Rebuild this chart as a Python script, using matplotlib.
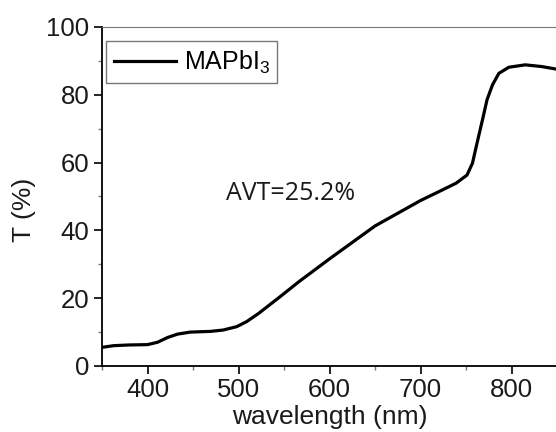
import matplotlib
matplotlib.use("Agg")
import matplotlib.pyplot as plt
from matplotlib.ticker import MultipleLocator

# transmittance spectrum
wavelength = [350, 363, 380, 400, 411, 422, 433, 447, 469, 483, 498, 509, 522,
              545, 567, 600, 650, 700, 720, 739, 751, 757, 762, 768, 773, 779,
              786, 797, 815, 833, 850]
trans = [5.5, 6.0, 6.2, 6.3, 7.0, 8.4, 9.4, 10.0, 10.2, 10.6, 11.6, 13.1, 15.5,
         20.3, 25.0, 31.6, 41.3, 48.8, 51.4, 53.9, 56.3, 59.8, 65.7, 72.6, 78.5, 82.9,
         86.3, 88.1, 88.8, 88.3, 87.5]

xticks = [400, 500, 600, 700, 800]
yticks = [0, 20, 40, 60, 80, 100]

plt.rcParams['font.family'] = ['Liberation Sans', 'DejaVu Sans']
plt.rcParams['mathtext.fontset'] = 'custom'
plt.rcParams['mathtext.rm'] = 'Liberation Sans'
plt.rcParams['mathtext.it'] = 'Liberation Sans'

fig = plt.figure(figsize=(5.56, 4.32), dpi=100)
ax = fig.add_axes([0.1835, 0.1528, 0.8185, 0.785])

ax.plot(wavelength, trans, color='black', lw=2.3, label=r'MAPbI$\mathregular{_3}$')

ax.set_xlim(350, 850)
ax.set_ylim(0, 100)
ax.set_xticks(xticks)
ax.set_yticks(yticks)
ax.xaxis.set_minor_locator(MultipleLocator(50))
ax.yaxis.set_minor_locator(MultipleLocator(10))
ax.tick_params(which='major', direction='out', length=6, width=1.2, labelsize=18.5, pad=3,
               labelcolor='#1a1a1a')
ax.tick_params(which='minor', direction='out', length=3, width=1, color='#777777')
ax.tick_params(top=False, right=False)

for s in ['left', 'bottom']:
    ax.spines[s].set_linewidth(1.3)
ax.spines['top'].set_color('#777777')
ax.spines['right'].set_color('#dddddd')

ax.set_xlabel('wavelength (nm)', fontsize=19, labelpad=2, color='#1a1a1a')
ax.set_ylabel('T (%)', fontsize=19, color='#1a1a1a')
ax.yaxis.set_label_coords(-0.145, 0.46)

ax.text(486.6, 51, 'AVT=25.2%', fontsize=18, family=['Open Sans', 'DejaVu Sans'],
        va='center', ha='left', color='#1a1a1a')

leg = ax.legend(loc='upper left', fontsize=18, frameon=True, fancybox=False,
                handlelength=2.5, borderpad=0.3, handletextpad=0.3,
                bbox_to_anchor=(0.009, 0.9587), borderaxespad=0)
leg.get_frame().set_edgecolor('#555555')
leg.get_frame().set_linewidth(1)

fig.savefig('out.png', dpi=100)
